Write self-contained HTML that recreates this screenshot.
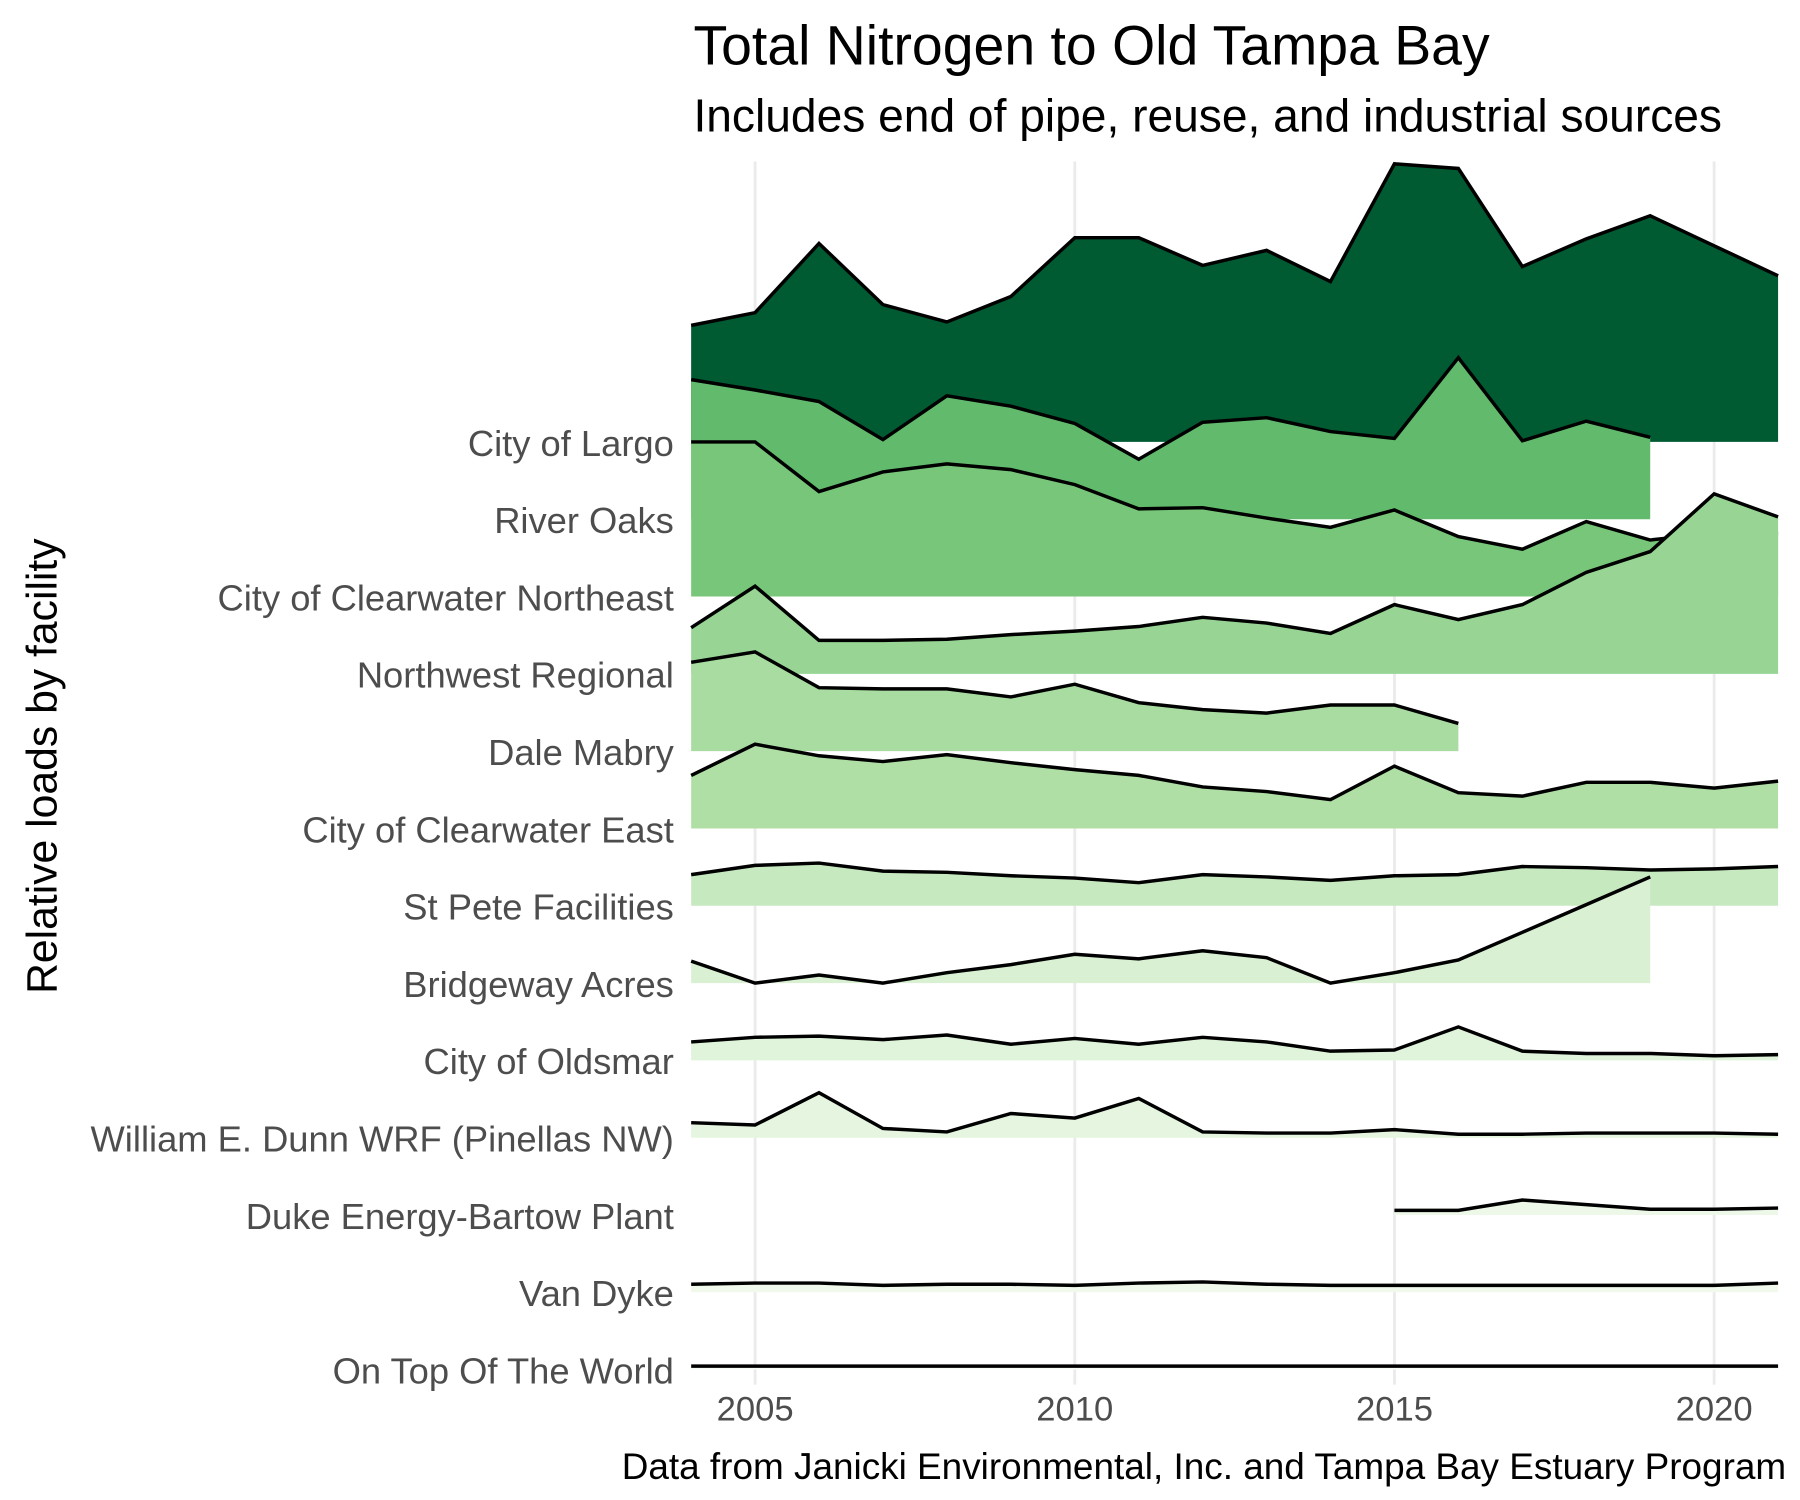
<!DOCTYPE html>
<html><head><meta charset="utf-8"><style>
html,body{margin:0;padding:0;background:#fff;}
svg{display:block;font-family:"Liberation Sans",Arial,sans-serif;}
</style></head><body>
<svg id="chart" width="1800" height="1500" viewBox="0 0 1560 1300" xmlns="http://www.w3.org/2000/svg">
<rect width="1560" height="1300" fill="#fff"/>
<g id="grid"></g>
<g id="areas"></g>
<g id="labels"></g>
<text x="601" y="56" font-size="48" fill="#000">Total Nitrogen to Old Tampa Bay</text>
<text x="601" y="114" font-size="40" fill="#000">Includes end of pipe, reuse, and industrial sources</text>
<text transform="translate(49,664) rotate(-90)" text-anchor="middle" font-size="37" fill="#000">Relative loads by facility</text>
<text x="1548" y="1282" text-anchor="end" font-size="32" fill="#000">Data from Janicki Environmental, Inc. and Tampa Bay Estuary Program</text>
</svg>
<script>
const facilities=["City of Largo","River Oaks","City of Clearwater Northeast","Northwest Regional","Dale Mabry","City of Clearwater East","St Pete Facilities","Bridgeway Acres","City of Oldsmar","William E. Dunn WRF (Pinellas NW)","Duke Energy-Bartow Plant","Van Dyke","On Top Of The World"];
const startYears=[2004,2004,2004,2004,2004,2004,2004,2004,2004,2004,2015,2004,2004];
const largo=[101,112,172,119,104,126,177,177,153,166,139,241,237,152,176,196,170,144];
const riverOaks=[121,112,102,69,107,98,83,52,84,88,76,70,140,68,85,71];
const clearwaterNE=[134,134,91,108,115,110,97,76,77,68,60,75,52,41,65,49,55,55];
const northwest=[40,76,29,29,30,34,37,41,49,44,35,60,47,60,88,106,156,136];
const daleMabry=[77,86,55,54,54,47,58,42,36,33,40,40,24];
const clearwaterE=[46,73,63,58,64,57,51,46,36,32,25,54,31,28,40,40,35,41];
const stPete=[27,35,37,30,29,26,24,20,27,25,22,26,27,34,33,31,32,34];
const bridgeway=[19,0,7,0,9,16,25,21,28,22,0,9,20,44,68,92];
const oldsmar=[16,20,21,18,22,14,19,14,20,16,8,9,29,8,6,6,4,5];
const dunn=[13,11,39,8,5,21,17,34,5,4,4,7,3,3,4,4,4,3];
const duke=[4,4,13,9,5,5,6];
const vanDyke=[7,8,8,6,7,7,6,8,9,7,6,6,6,6,6,6,6,8];
const onTop=[3,3,3,3,3,3,3,3,3,3,3,3,3,3,3,3,3,3];
const xTicks=[2005,2010,2015,2020];
const series=[largo,riverOaks,clearwaterNE,northwest,daleMabry,clearwaterE,stPete,bridgeway,oldsmar,dunn,duke,vanDyke,onTop];
const colors=["#005a32","#62bb6d","#78c679","#98d594","#a8dca0","#b0dfa6","#c7e9c0","#d9f0d3","#e0f3db","#e5f5e0","#edf8e9","#f0f9ec","#f7fcf5"];
const NS="http://www.w3.org/2000/svg";
function xs(yr){return 599+(yr-2004)*(1541-599)/17;}
function base(i){return 383+i*67;}
function ys(i,v){return base(i)-v;}
const grid=document.getElementById('grid');
xTicks.forEach(t=>{
  const l=document.createElementNS(NS,'line');
  l.setAttribute('x1',xs(t));l.setAttribute('x2',xs(t));l.setAttribute('y1',140);l.setAttribute('y2',1200);
  l.setAttribute('stroke','#ebebeb');l.setAttribute('stroke-width','2.5');
  
  
  grid.appendChild(l);
  const tx=document.createElementNS(NS,'text');
  tx.setAttribute('x',xs(t));tx.setAttribute('y',1231);tx.setAttribute('text-anchor','middle');
  tx.setAttribute('font-size','30');tx.setAttribute('fill','#4d4d4d');tx.textContent=t;
  
  
  grid.appendChild(tx);
});
const areas=document.getElementById('areas');
const labels=document.getElementById('labels');
series.forEach((vals,i)=>{
  const s=startYears[i];
  let pts=vals.map((v,k)=>xs(s+k).toFixed(1)+','+ys(i,v).toFixed(1));
  const x0=xs(s),x1=xs(s+vals.length-1);
  const area=document.createElementNS(NS,'polygon');
  area.setAttribute('points',x0+','+base(i)+' '+pts.join(' ')+' '+x1+','+base(i));
  area.setAttribute('fill',colors[i]);
  
  
  areas.appendChild(area);
  const line=document.createElementNS(NS,'polyline');
  line.setAttribute('points',pts.join(' '));
  line.setAttribute('fill','none');line.setAttribute('stroke','#000');line.setAttribute('stroke-width','3');
  
  
  areas.appendChild(line);
  const tx=document.createElementNS(NS,'text');
  tx.setAttribute('x',584);tx.setAttribute('y',base(i)+12);tx.setAttribute('text-anchor','end');
  tx.setAttribute('font-size','31.5');tx.setAttribute('fill','#4d4d4d');tx.textContent=facilities[i];
  
  
  labels.appendChild(tx);
});
</script>
</body></html>
